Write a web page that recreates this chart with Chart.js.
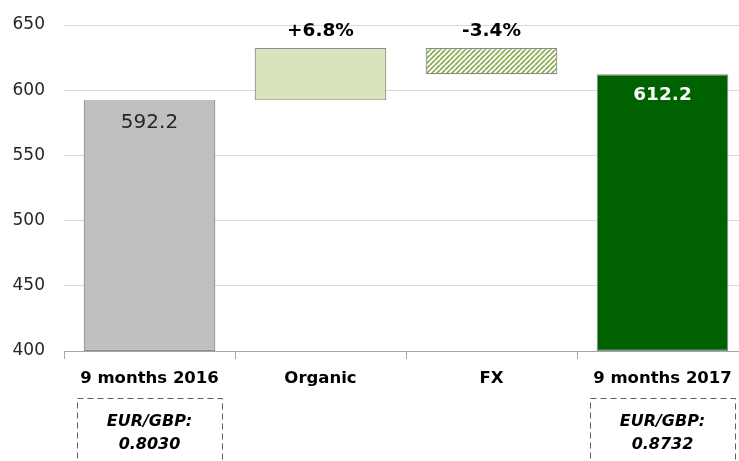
<!DOCTYPE html>
<html>
<head>
<meta charset="utf-8">
<script src="https://cdn.jsdelivr.net/npm/chart.js@4.4.0/dist/chart.umd.min.js"></script>
<style>
  html, body { margin: 0; padding: 0; background: #fff; overflow: hidden; }
  #wrap { width: 748px; height: 461px; }
</style>
</head>
<body>
<div id="wrap"><canvas id="bridge" width="748" height="461"></canvas></div>
<script>
// values
const categories = ['9 months 2016', 'Organic', 'FX', '9 months 2017'];
const barLow  = [400, 592.2, 612.2, 400];
const barHigh = [592.2, 632.4, 632.4, 612.2];
const barLabels = ['592.2', '+6.8%', '-3.4%', '612.2'];
const yTicks = [400, 450, 500, 550, 600, 650];
const rateNotes = ['EUR/GBP:\n0.8030', '', '', 'EUR/GBP:\n0.8732'];

const FONT = "'DejaVu Sans', sans-serif";

function hatch() {
    const c = document.createElement('canvas');
    c.width = 5; c.height = 5;
    const g = c.getContext('2d');
    g.fillStyle = '#ffffff';
    g.fillRect(0, 0, 5, 5);
    g.strokeStyle = '#8fae5a';
    g.lineWidth = 1.5;
    for (let k = -5; k <= 10; k += 5) {
        g.beginPath();
        g.moveTo(k - 5, 5);
        g.lineTo(k + 5, -5);
        g.stroke();
        g.beginPath();
        g.moveTo(k, 5);
        g.lineTo(k + 5, 0);
        g.stroke();
    }
    return g.createPattern(c, 'repeat');
}

const labelPlugin = {
    id: 'bridgeLabels',
    afterDatasetsDraw(chart) {
        const ctx = chart.ctx;
        const meta = chart.getDatasetMeta(0);
        const y = chart.scales.y;
        ctx.save();
        ctx.textAlign = 'center';
        ctx.textBaseline = 'middle';
        meta.data.forEach((bar, i) => {
            const top = y.getPixelForValue(barHigh[i]);
            if (i === 0) {
                ctx.font = '20px ' + FONT;
                ctx.fillStyle = '#262626';
                ctx.fillText(barLabels[i], bar.x, top + 22);
            } else if (i === 3) {
                ctx.font = 'bold 18.5px ' + FONT;
                ctx.fillStyle = '#ffffff';
                ctx.fillText(barLabels[i], bar.x, top + 21);
            } else {
                ctx.font = 'bold 18.5px ' + FONT;
                ctx.fillStyle = '#000000';
                ctx.fillText(barLabels[i], bar.x, top - 17);
            }
        });
        ctx.restore();
    },
    afterDraw(chart) {
        const ctx = chart.ctx;
        const x = chart.scales.x;
        ctx.save();
        rateNotes.forEach((note, i) => {
            if (!note) return;
            const cx = x.getPixelForValue(i);
            ctx.setLineDash([6, 4]);
            ctx.strokeStyle = '#5f5f5f';
            ctx.lineWidth = 1;
            ctx.strokeRect(Math.round(cx - 73) + 0.5, 398.5, 145, 80);
            ctx.setLineDash([]);
            ctx.font = 'italic bold 16px ' + FONT;
            ctx.fillStyle = '#000';
            ctx.textAlign = 'center';
            ctx.textBaseline = 'middle';
            note.split('\n').forEach((line, k) => {
                ctx.fillText(line, cx, 422 + k * 23);
            });
        });
        ctx.restore();
    }
};

new Chart(document.getElementById('bridge'), {
    type: 'bar',
    data: {
        labels: categories,
        datasets: [{
            data: barLow.map((v, i) => [v, barHigh[i]]),
            backgroundColor: ['#bfbfbf', '#d7e4bd', hatch(), '#006100'],
            borderColor: '#8a8a8a',
            borderWidth: 1.2,
            borderSkipped: false,
            barPercentage: 0.77,
            categoryPercentage: 1
        }]
    },
    options: {
        responsive: false,
        animation: false,
        layout: { padding: { top: 25, right: 0, left: 0, bottom: 0 } },
        plugins: {
            legend: { display: false },
            tooltip: { enabled: false }
        },
        scales: {
            x: {
                grid: { offset: true, drawOnChartArea: false, tickLength: 8, color: '#a6a6a6' },
                border: { color: '#a6a6a6' },
                ticks: {
                    padding: 10,
                    color: '#000',
                    font: { family: FONT, size: 16.5, weight: 'bold' }
                },
                afterFit(scale) { scale.height = 110; }
            },
            y: {
                min: 400,
                max: 650,
                afterBuildTicks(scale) { scale.ticks = yTicks.map(v => ({ value: v })); },
                grid: { color: '#d9d9d9', tickLength: 15, tickColor: 'rgba(0,0,0,0)' },
                border: { display: false },
                ticks: {
                    padding: 4,
                    color: '#262626',
                    font: { family: FONT, size: 17 }
                },
                afterFit(scale) { scale.width = 64; }
            }
        }
    },
    plugins: [labelPlugin]
});
</script>
</body>
</html>
